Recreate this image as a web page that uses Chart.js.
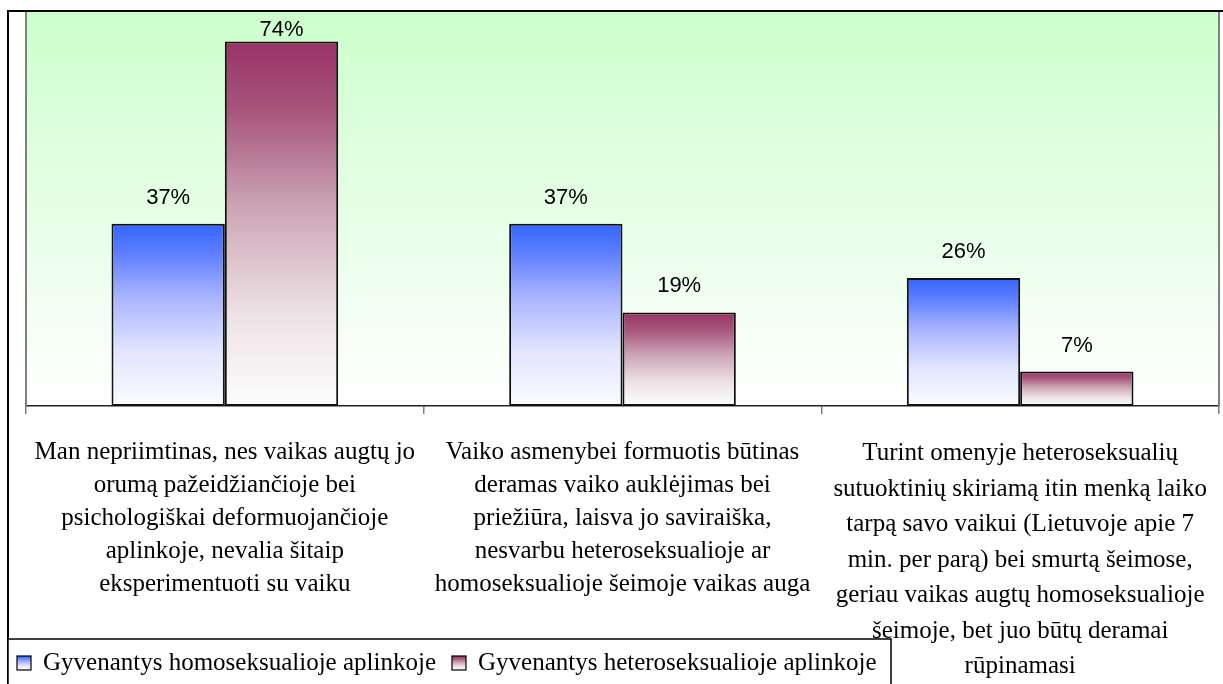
<!DOCTYPE html>
<html>
<head>
<meta charset="utf-8">
<script src="https://cdn.jsdelivr.net/npm/chart.js@4/dist/chart.umd.min.js"></script>
<style>
html,body{margin:0;padding:0;background:#fff;}
#wrap{width:1223px;height:684px;position:relative;}
</style>
</head>
<body>
<div id="wrap"><canvas id="c"></canvas></div>
<script>
const categories = [
  ["Man nepriimtinas, nes vaikas augtų jo", "orumą pažeidžiančioje bei", "psichologiškai deformuojančioje", "aplinkoje, nevalia šitaip", "eksperimentuoti su vaiku"],
  ["Vaiko asmenybei formuotis būtinas", "deramas vaiko auklėjimas bei", "priežiūra, laisva jo saviraiška,", "nesvarbu heteroseksualioje ar", "homoseksualioje šeimoje vaikas auga"],
  ["Turint omenyje heteroseksualių", "sutuoktinių skiriamą itin menką laiko", "tarpą savo vaikui (Lietuvoje apie 7", "min. per parą) bei smurtą šeimose,", "geriau vaikas augtų homoseksualioje", "šeimoje, bet juo būtų deramai", "rūpinamasi"]
];
const seriesNames = ["Gyvenantys homoseksualioje aplinkoje", "Gyvenantys heteroseksualioje aplinkoje"];
const homoValues = [37, 37, 26];
const heteroValues = [74, 19, 7];
const yMin = 0, yMax = 80;

const SERIF = "'Liberation Serif','Times New Roman',serif";
const SANS = "'Liberation Sans',Arial,sans-serif";

const blueStops = [[0,'#3366ff'],[0.15,'#5a7cff'],[0.4,'#a8b4ff'],[0.7,'#e2e5ff'],[1,'#fbfbff']];
const magStops = [[0,'#993366'],[0.2,'#a8587e'],[0.45,'#cca4b4'],[0.75,'#ede2e6'],[1,'#fdfdfd']];

function gradFor(stops){
  return function(ctx){
    const chart = ctx.chart;
    const ys = chart.scales && chart.scales.y;
    if(!ys || ctx.type !== 'data') return stops[0][1];
    const top = ys.getPixelForValue(ctx.raw);
    const bottom = ys.getPixelForValue(0);
    if(!isFinite(top) || !isFinite(bottom) || top === bottom) return stops[0][1];
    const g = chart.ctx.createLinearGradient(0, top, 0, bottom);
    stops.forEach(s => g.addColorStop(s[0], s[1]));
    return g;
  };
}

const framePlugin = {
  id: 'frame',
  beforeDraw(chart){
    const {ctx, chartArea: a} = chart;
    ctx.save();
    const g = ctx.createLinearGradient(0, a.top, 0, a.bottom);
    g.addColorStop(0, '#ccffcc');
    g.addColorStop(1, '#ffffff');
    ctx.fillStyle = g;
    ctx.fillRect(a.left, a.top, a.right - a.left, a.bottom - a.top);
    ctx.restore();
  },
  afterDatasetsDraw(chart){
    const {ctx, chartArea: a} = chart;
    ctx.save();
    ctx.font = "22px " + SANS;
    ctx.fillStyle = '#000';
    ctx.textAlign = 'center';
    ctx.textBaseline = 'middle';
    chart.data.datasets.forEach((ds, di) => {
      const meta = chart.getDatasetMeta(di);
      meta.data.forEach((bar, i) => {
        const ty = Math.max(bar.y - 26, a.top + 18);
        ctx.fillText(ds.data[i] + '%', bar.x, ty);
      });
    });
    ctx.strokeStyle = '#808080';
    ctx.lineWidth = 2;
    ctx.beginPath();
    ctx.moveTo(a.left, a.top); ctx.lineTo(a.left, a.bottom);
    ctx.moveTo(a.right, a.top); ctx.lineTo(a.right, a.bottom);
    ctx.stroke();
    ctx.restore();
  },
  afterDraw(chart){
    const {ctx} = chart;
    ctx.save();
    ctx.strokeStyle = '#000';
    ctx.lineWidth = 2;
    ctx.strokeRect(8, 11, 1300, 700);
    const lx = 8, ly = 639, lw = 883, lh = 60;
    ctx.fillStyle = '#fff';
    ctx.fillRect(lx, ly, lw, lh);
    ctx.lineWidth = 1.5;
    ctx.strokeStyle = '#000';
    ctx.strokeRect(lx, ly, lw, lh);
    ctx.font = "25px " + SERIF;
    ctx.textBaseline = 'middle';
    ctx.textAlign = 'left';
    let x = 17;
    const yMid = 663;
    const stopsList = [blueStops, magStops];
    seriesNames.forEach((name, i) => {
      const g = ctx.createLinearGradient(0, yMid - 7, 0, yMid + 7);
      stopsList[i].forEach(s => g.addColorStop(s[0], s[1]));
      ctx.fillStyle = g;
      ctx.fillRect(x, yMid - 7, 14, 14);
      ctx.strokeStyle = '#000';
      ctx.lineWidth = 1.2;
      ctx.strokeRect(x, yMid - 7, 14, 14);
      ctx.fillStyle = '#000';
      ctx.fillText(name, x + 26, yMid);
      x = x + 26 + ctx.measureText(name).width + 16;
    });
    ctx.restore();
  }
};

new Chart(document.getElementById('c'), {
  type: 'bar',
  data: {
    labels: categories,
    datasets: [
      {label: seriesNames[0], data: homoValues, backgroundColor: gradFor(blueStops), borderColor: '#111', borderWidth: 2, borderSkipped: false},
      {label: seriesNames[1], data: heteroValues, backgroundColor: gradFor(magStops), borderColor: '#111', borderWidth: 2, borderSkipped: false}
    ]
  },
  options: {
    responsive: true,
    maintainAspectRatio: false,
    animation: false,
    devicePixelRatio: 1,
    layout: {padding: {left: 26, right: 4, top: 12, bottom: 0}},
    datasets: {bar: {categoryPercentage: 0.57, barPercentage: 1}},
    plugins: {legend: {display: false}, tooltip: {enabled: false}},
    scales: {
      x: {
        grid: {display: true, drawOnChartArea: false, drawTicks: true, tickLength: 8, color: '#808080', lineWidth: 1.5, offset: true},
        border: {display: true, color: '#222', width: 1.5},
        ticks: {
          autoSkip: false, maxRotation: 0, minRotation: 0, padding: 22, color: '#000',
          font: (c) => ({family: SERIF, size: 25, lineHeight: (c.index === 2 ? 1.42 : 1.32)})
        },
        afterFit(scale){ scale.height = 278; scale.paddingLeft = 0; scale.paddingRight = 0; }
      },
      y: {display: false, min: yMin, max: yMax}
    }
  },
  plugins: [framePlugin]
});
</script>
</body>
</html>
